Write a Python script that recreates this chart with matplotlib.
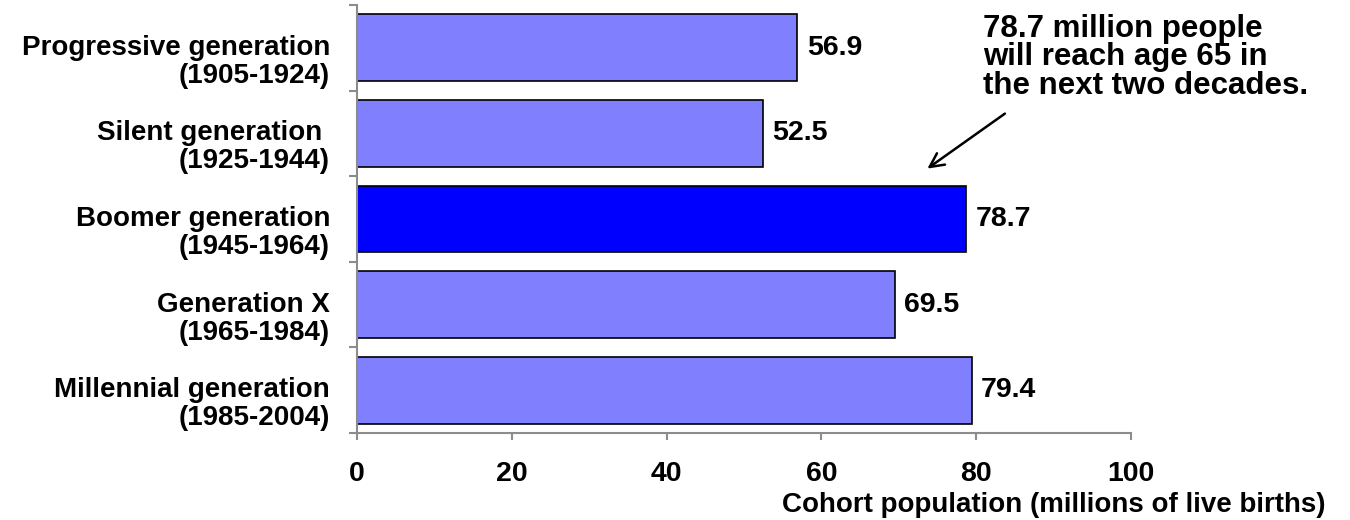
import matplotlib

matplotlib.use("Agg")
import matplotlib.pyplot as plt
import matplotlib.transforms as mtransforms
import numpy as np

plt.rcParams["font.family"] = ["Liberation Sans", "DejaVu Sans"]
plt.rcParams["font.weight"] = "bold"

generations = [
    "Progressive generation\n(1905-1924)",
    "Silent generation \n(1925-1944)",
    "Boomer generation\n(1945-1964)",
    "Generation X\n(1965-1984)",
    "Millennial generation\n(1985-2004)",
]
births = [56.9, 52.5, 78.7, 69.5, 79.4]
bar_colors = ["#8080FF", "#8080FF", "#0000FF", "#8080FF", "#8080FF"]
xticks = [0, 20, 40, 60, 80, 100]
note = "78.7 million people\nwill reach age 65 in\nthe next two decades."

fig = plt.figure(figsize=(13.5, 5.2), dpi=100)
ax = fig.add_axes([357 / 1350, 1 - 433 / 520, (1131 - 357) / 1350, 428 / 520])

y = np.arange(len(generations))
ax.barh(y, births, height=0.78, color=bar_colors, edgecolor="black", linewidth=1.2)

for yi, v in zip(y, births):
    ax.text(v + 1.2, yi, f"{v:.1f}", va="center", ha="left",
            fontsize=20.5, fontweight="bold")

ax.set_xlim(0, 100)
ax.set_ylim(len(generations) - 0.5, -0.5)
ax.set_xticks(xticks)
ax.set_xticklabels([str(t) for t in xticks], fontsize=20.5, fontweight="bold")

# category names sit a little below the bar centres, between the boundary ticks
ax.set_yticks(np.arange(-0.5, len(generations)))
ax.set_yticklabels([])
label_tf = ax.get_yaxis_transform() + mtransforms.ScaledTranslation(
    -0.27, -0.14, fig.dpi_scale_trans)
for yi, name in zip(y, generations):
    ax.text(0, yi, name, transform=label_tf, ha="right", va="center",
            fontsize=20, fontweight="bold", linespacing=1.1)

for side in ("top", "right"):
    ax.spines[side].set_visible(False)
for side in ("left", "bottom"):
    ax.spines[side].set_color("#8c8c8c")
    ax.spines[side].set_linewidth(1.5)

ax.tick_params(axis="y", length=6, width=1.5, color="#8c8c8c", direction="out")
ax.tick_params(axis="x", length=5, width=1.5, color="#8c8c8c", pad=15.5)
ax.grid(False)

fig.text(1325 / 1350, 1 - 505 / 520, "Cohort population (millions of live births)",
         ha="right", va="center", fontsize=20, fontweight="bold")

ax.annotate("", xy=(73.4, 1.43), xytext=(84.0, 0.75),
            arrowprops=dict(arrowstyle="->", color="black", lw=1.8,
                            mutation_scale=25))
ax.text(80.9, -0.4, note, ha="left", va="top", fontsize=22.5,
        fontweight="bold", linespacing=0.95)

fig.savefig("out.png", dpi=100)
